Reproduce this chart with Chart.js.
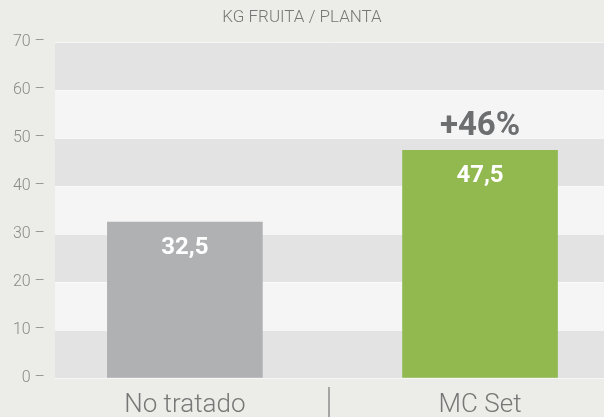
<!DOCTYPE html>
<html>
<head>
<meta charset="utf-8">
<script src="https://cdn.jsdelivr.net/npm/chart.js@4"></script>
<style>
  html, body { margin: 0; padding: 0; background: #ecede8; overflow: hidden; }
  #box { width: 604px; height: 417px; }
</style>
</head>
<body>
<div id="box"><canvas id="chart" width="604" height="417"></canvas></div>
<script>
// KG fruta por planta - No tratado vs MC Set
const categories = ['No tratado', 'MC Set'];
const values = [32.5, 47.5];
const barColors = ['#b0b1b3', '#92b850'];
const yTicks = [0, 10, 20, 30, 40, 50, 60, 70];

const FONT = 'Roboto, "Open Sans", sans-serif';
const fmt = v => String(v).replace('.', ',');
const gain = '+' + Math.round((values[1] - values[0]) / values[0] * 100) + '%';

// alternating horizontal bands behind the bars
const bands = {
  id: 'bands',
  beforeDraw(chart) {
    const { ctx, chartArea: a, scales: { y } } = chart;
    ctx.save();
    for (let i = 0; i < yTicks.length - 1; i++) {
      const top = y.getPixelForValue(yTicks[i + 1]);
      const bot = y.getPixelForValue(yTicks[i]);
      ctx.fillStyle = i % 2 === 0 ? '#e2e3e2' : '#f5f5f5';
      ctx.fillRect(a.left, top, a.right - a.left, bot - top);
    }
    ctx.restore();
  }
};

// value labels, gain label and the separator under the axis
const labels = {
  id: 'labels',
  afterDatasetsDraw(chart) {
    const { ctx, chartArea: a, scales: { y } } = chart;
    const bars = chart.getDatasetMeta(0).data;
    ctx.save();
    ctx.textAlign = 'center';
    ctx.textBaseline = 'middle';
    ctx.fillStyle = '#ffffff';
    ctx.font = 'bold 24px ' + FONT;
    bars.forEach((b, i) => ctx.fillText(fmt(values[i]), b.x, b.y + 26));
    ctx.fillStyle = '#6d6e70';
    ctx.font = 'bold 33px ' + FONT;
    ctx.fillText(gain, bars[1].x, bars[1].y - 24);

    const mid = (a.left + a.right) / 2;
    ctx.fillStyle = '#a5a6a3';
    ctx.fillRect(Math.round(mid) - 2, y.bottom + 9, 2, chart.height - y.bottom - 9);
    ctx.restore();
  }
};

new Chart(document.getElementById('chart'), {
  type: 'bar',
  data: {
    datasets: [{
      data: values.map((v, i) => ({ x: i, y: v })),
      backgroundColor: barColors,
      barThickness: 155,
      borderWidth: 0
    }]
  },
  options: {
    responsive: false,
    animation: false,
    layout: { padding: 0 },
    plugins: {
      legend: { display: false },
      tooltip: { enabled: false },
      title: {
        display: true,
        text: 'KG FRUITA / PLANTA',
        color: '#777777',
        font: { family: FONT, size: 17, weight: 300 },
        padding: { top: 8, bottom: 14 }
      }
    },
    scales: {
      x: {
        type: 'linear',
        offset: false,
        min: -0.44,
        max: 1.42,
        afterBuildTicks: s => { s.ticks = categories.map((c, i) => ({ value: i })); },
        ticks: {
          callback: v => categories[v],
          color: '#777777',
          font: { family: FONT, size: 26, weight: 300 },
          padding: 12,
          maxRotation: 0
        },
        grid: { display: false, drawTicks: false },
        border: { display: false },
        afterFit: s => { s.height = 39; }
      },
      y: {
        min: 0,
        max: 70,
        afterBuildTicks: s => { s.ticks = yTicks.map(v => ({ value: v })); },
        ticks: {
          callback: v => v + ' \u2013',
          color: '#8a8a8a',
          font: { family: FONT, size: 16, weight: 300 },
          padding: 10
        },
        grid: { color: 'rgba(255,255,255,0.6)', lineWidth: 1, drawTicks: false },
        border: { display: false },
        afterFit: s => { s.width = 55; }
      }
    }
  },
  plugins: [bands, labels]
});
</script>
</body>
</html>
